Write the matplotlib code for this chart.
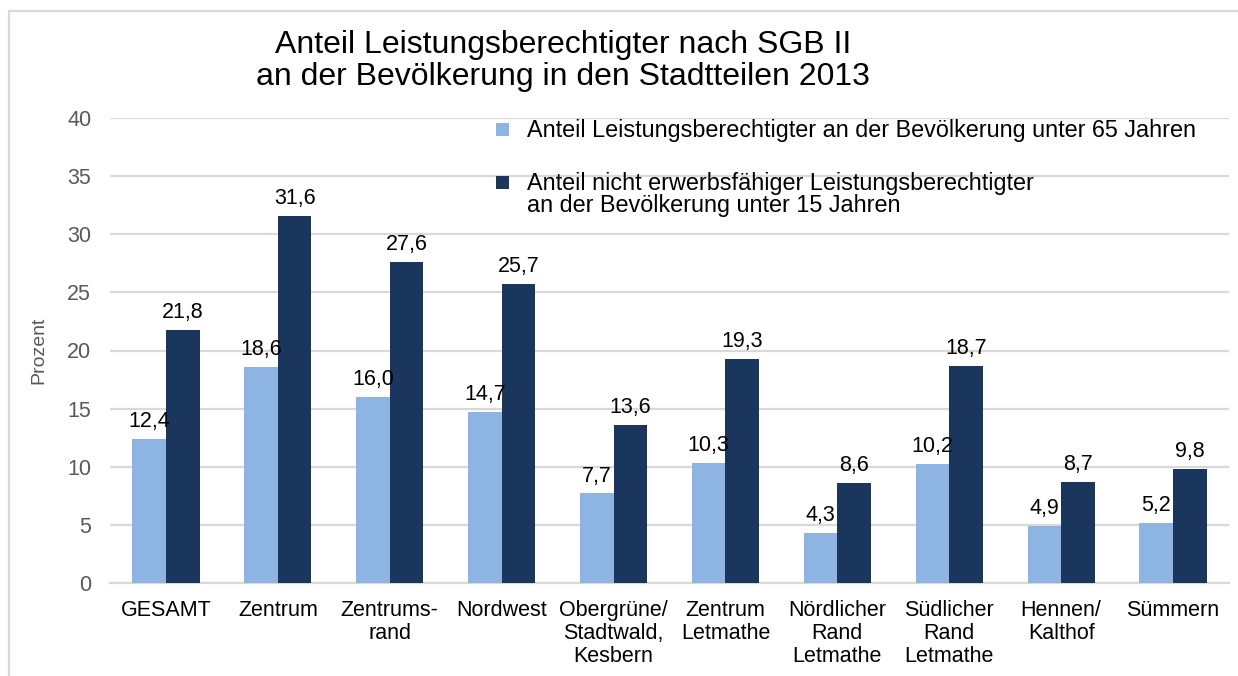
import matplotlib
matplotlib.use("Agg")
import matplotlib.pyplot as plt
import numpy as np
from matplotlib.patches import Rectangle

plt.rcParams['font.family'] = ['Liberation Sans', 'DejaVu Sans']

categories = ["GESAMT", "Zentrum", "Zentrums-\nrand", "Nordwest",
              "Obergrüne/\nStadtwald,\nKesbern", "Zentrum\nLetmathe",
              "Nördlicher\nRand\nLetmathe", "Südlicher\nRand\nLetmathe",
              "Hennen/\nKalthof", "Sümmern"]
share_under65 = [12.4, 18.6, 16.0, 14.7, 7.7, 10.3, 4.3, 10.2, 4.9, 5.2]
share_under15 = [21.8, 31.6, 27.6, 25.7, 13.6, 19.3, 8.6, 18.7, 8.7, 9.8]
series_names = ["Anteil Leistungsberechtigter an der Bevölkerung unter 65 Jahren",
                "Anteil nicht erwerbsfähiger Leistungsberechtigter\nan der Bevölkerung unter 15 Jahren"]
yticks = [0, 5, 10, 15, 20, 25, 30, 35, 40]

light = "#8EB4E3"
dark = "#1A365D"
grid = "#D9D9D9"
FS = 15.5
W, H = 1238, 676

fig = plt.figure(figsize=(12.38, 6.76), dpi=100)
ax = fig.add_axes([110/W, 93/H, (1229-110)/W, (583-118)/H])

x = np.arange(len(categories))
w = 0.3
b1 = ax.bar(x - w/2, share_under65, w, color=light, label=series_names[0], zorder=3)
b2 = ax.bar(x + w/2, share_under15, w, color=dark, label=series_names[1], zorder=3)

for bars in (b1, b2):
    for r in bars:
        v = r.get_height()
        ax.annotate(f"{v:.1f}".replace(".", ","), (r.get_x() + r.get_width()/2, v),
                    xytext=(0, 5), textcoords="offset points", ha="center", va="bottom",
                    fontsize=FS, color="black")

ax.set_xlim(-0.5, len(categories) - 0.5)
ax.set_ylim(0, 40)
ax.set_yticks(yticks)
ax.set_yticklabels([str(t) for t in yticks])
ax.yaxis.grid(True, color=grid, linewidth=1.6, zorder=0)
ax.set_axisbelow(True)
for s in ["top", "right", "left"]:
    ax.spines[s].set_visible(False)
ax.spines["bottom"].set_color(grid)
ax.spines["bottom"].set_linewidth(1.6)
ax.tick_params(axis="y", length=0, pad=13.5, labelsize=FS, labelcolor="#595959")
ax.tick_params(axis="x", length=0, pad=12.5, labelsize=FS, labelcolor="black")
ax.set_xticks(x)
ax.set_xticklabels(categories, linespacing=1.12)
ax.set_ylabel("Prozent", fontsize=14, color="#595959", labelpad=14)

# legend drawn manually (square aligned to first text line, as in reference)
LFS = 16.8
sq = 12.5
legend_rows = [(series_names[0], light, 137, 137), (series_names[1], dark, 190, 212)]
for name, col, base_first, base_last in legend_rows:
    fig.patches.append(Rectangle((496/W, 1 - (base_first - 1.5)/H), sq/W, sq/H, transform=fig.transFigure,
                                 facecolor=col, edgecolor="none"))
    fig.text(527/W, 1 - base_last/H, name, ha="left", va="baseline", fontsize=LFS, linespacing=0.97)

fig.text(563/W, 1 - 61/H, "Anteil Leistungsberechtigter nach SGB II\nan der Bevölkerung in den Stadtteilen 2013",
         ha="center", va="center", fontsize=23, linespacing=1.12)

fig.patches.append(Rectangle((9/W, -0.1), 1.2, 1 - 11/H + 0.1, transform=fig.transFigure,
                             fill=False, edgecolor=grid, linewidth=1.6, zorder=0))

fig.savefig("out.png", dpi=100)
